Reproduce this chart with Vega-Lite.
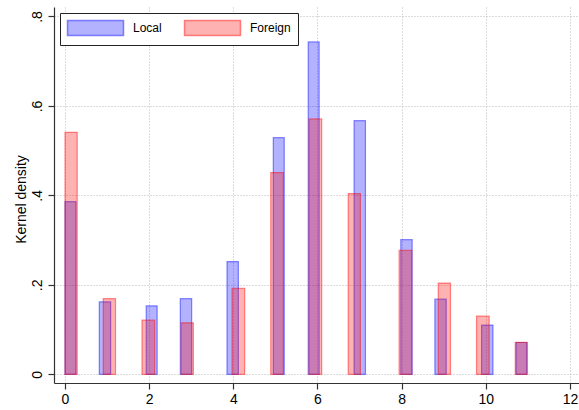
{
  "$schema": "https://vega.github.io/schema/vega-lite/v6.json",
  "width": 525,
  "height": 376,
  "autosize": {"type": "none"},
  "padding": {"left": 54, "top": 7, "right": 0, "bottom": 27},
  "background": "white",
  "config": {"view": {"stroke": null}, "font": "Liberation Sans"},
  "data": {
    "values": [
      {"g": "Local", "x0": 0.0, "x1": 0.26, "d": 0.386},
      {"g": "Local", "x0": 0.815, "x1": 1.085, "d": 0.162},
      {"g": "Local", "x0": 1.93, "x1": 2.19, "d": 0.153},
      {"g": "Local", "x0": 2.74, "x1": 3.01, "d": 0.169},
      {"g": "Local", "x0": 3.85, "x1": 4.12, "d": 0.252},
      {"g": "Local", "x0": 4.95, "x1": 5.21, "d": 0.529},
      {"g": "Local", "x0": 5.78, "x1": 6.04, "d": 0.743},
      {"g": "Local", "x0": 6.87, "x1": 7.14, "d": 0.567},
      {"g": "Local", "x0": 7.98, "x1": 8.25, "d": 0.301},
      {"g": "Local", "x0": 8.79, "x1": 9.06, "d": 0.168},
      {"g": "Local", "x0": 9.9, "x1": 10.17, "d": 0.11},
      {"g": "Local", "x0": 10.72, "x1": 10.97, "d": 0.071},
      {"g": "Foreign", "x0": 0.0, "x1": 0.29, "d": 0.541},
      {"g": "Foreign", "x0": 0.91, "x1": 1.2, "d": 0.169},
      {"g": "Foreign", "x0": 1.83, "x1": 2.13, "d": 0.121},
      {"g": "Foreign", "x0": 2.76, "x1": 3.05, "d": 0.115},
      {"g": "Foreign", "x0": 3.97, "x1": 4.27, "d": 0.192},
      {"g": "Foreign", "x0": 4.89, "x1": 5.19, "d": 0.451},
      {"g": "Foreign", "x0": 5.8, "x1": 6.1, "d": 0.571},
      {"g": "Foreign", "x0": 6.73, "x1": 7.02, "d": 0.404},
      {"g": "Foreign", "x0": 7.94, "x1": 8.24, "d": 0.277},
      {"g": "Foreign", "x0": 8.87, "x1": 9.16, "d": 0.204},
      {"g": "Foreign", "x0": 9.78, "x1": 10.08, "d": 0.13},
      {"g": "Foreign", "x0": 10.7, "x1": 10.99, "d": 0.0715}
    ]
  },
  "mark": {"type": "bar", "strokeWidth": 1.2},
  "encoding": {
    "x": {
      "field": "x0",
      "type": "quantitative",
      "scale": {"domain": [-0.2614, 12.215], "nice": false, "zero": false},
      "axis": {
        "values": [0, 2, 4, 6, 8, 10, 12],
        "title": null,
        "grid": true,
        "gridDash": [1, 2],
        "gridColor": "#b8b8b8",
        "gridWidth": 1,
        "domainColor": "#333333",
        "domainWidth": 1.2,
        "tickColor": "#333333",
        "tickSize": 6,
        "tickWidth": 1.2,
        "labelFontSize": 14,
        "labelPadding": 3,
        "labelColor": "black",
        "labelFont": "Liberation Sans",
        "labelFlush": false
      }
    },
    "x2": {"field": "x1"},
    "y": {
      "field": "d",
      "type": "quantitative",
      "scale": {"domain": [-0.0195, 0.8212], "nice": false, "zero": false},
      "axis": {
        "values": [0, 0.2, 0.4, 0.6, 0.8],
        "labelExpr": "datum.value == 0 ? '0' : replace(format(datum.value, '.1f'), '0.', '.')",
        "title": "Kernel density",
        "titleFont": "Liberation Sans",
        "titleFontSize": 14,
        "titleFontWeight": "normal",
        "titleColor": "black",
        "titleAngle": -90,
        "titleBaseline": "alphabetic",
        "titleAlign": "center",
        "titleX": -29,
        "titleY": 192,
        "grid": true,
        "gridDash": [1, 2],
        "gridColor": "#b8b8b8",
        "gridWidth": 1,
        "domainColor": "#333333",
        "domainWidth": 1.2,
        "tickColor": "#333333",
        "tickSize": 6,
        "tickWidth": 1.2,
        "labelAngle": -90,
        "labelAlign": "center",
        "labelBaseline": "alphabetic",
        "labelFontSize": 14,
        "labelPadding": 7,
        "labelColor": "black",
        "labelFont": "Liberation Sans",
        "labelFlush": false
      }
    },
    "y2": {"datum": 0},
    "color": {
      "field": "g",
      "type": "nominal",
      "scale": {"domain": ["Local", "Foreign"], "range": ["rgba(0,0,255,0.3)", "rgba(255,0,0,0.3)"]},
      "legend": {
        "orient": "none", "legendX": 6, "legendY": 6,
        "direction": "horizontal", "columns": 2, "title": null,
        "symbolType": "M-1,-1L6.467,-1L6.467,1L-1,1Z", "symbolSize": 225,
        "symbolStrokeWidth": 1.5, "labelFontSize": 12, "labelOffset": 49.5,
        "columnPadding": 19, "padding": 6.5, "strokeColor": "#222222",
        "fillColor": "white", "labelColor": "black", "labelFont": "Liberation Sans"
      }
    },
    "stroke": {
      "field": "g",
      "type": "nominal",
      "scale": {"domain": ["Local", "Foreign"], "range": ["rgba(0,0,255,0.45)", "rgba(255,0,0,0.45)"]},
      "legend": {
        "orient": "none", "legendX": 6, "legendY": 6,
        "direction": "horizontal", "columns": 2, "title": null,
        "symbolType": "M-1,-1L6.467,-1L6.467,1L-1,1Z", "symbolSize": 225,
        "symbolStrokeWidth": 1.5, "labelFontSize": 12, "labelOffset": 49.5,
        "columnPadding": 19, "padding": 6.5, "strokeColor": "#222222",
        "fillColor": "white", "labelColor": "black", "labelFont": "Liberation Sans"
      }
    }
  }
}
